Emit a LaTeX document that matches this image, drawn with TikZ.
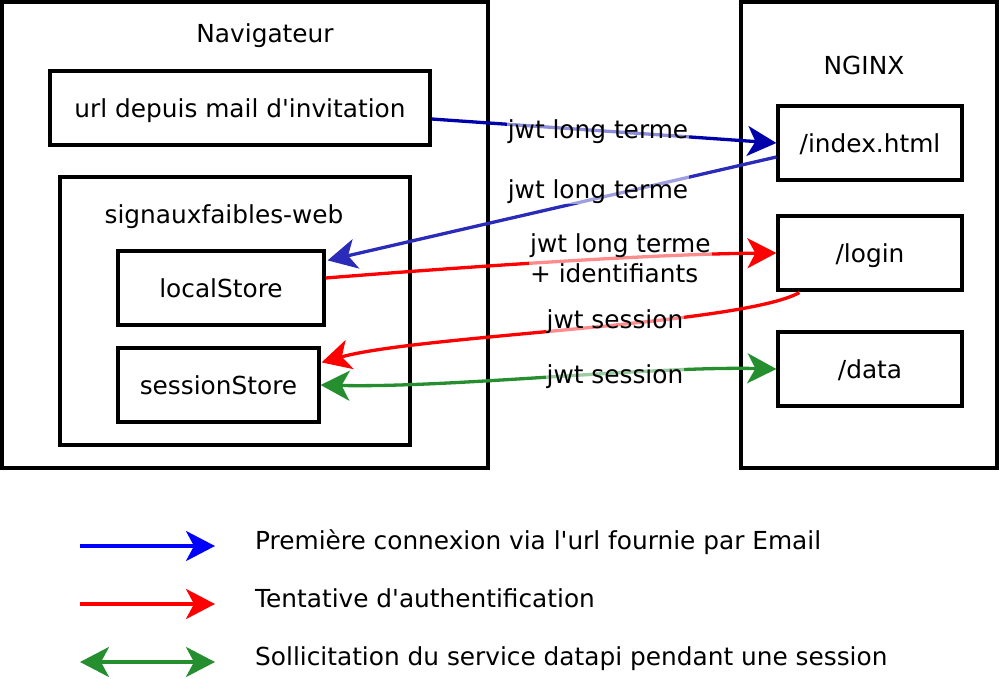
\documentclass[tikz,border=0pt]{standalone}
\usepackage{fontspec}
\setmainfont{DejaVu Sans}
\usetikzlibrary{arrows.meta,calc}
\definecolor{bluA}{HTML}{0000AA}
\definecolor{bluB}{HTML}{2B2BB9}
\definecolor{bluL}{HTML}{0000FF}
\definecolor{redA}{HTML}{FF0000}
\definecolor{grnA}{HTML}{258E2F}
\begin{document}
\begin{tikzpicture}[x=1pt,y=-1pt,
  fnt/.style={font=\fontsize{24.8}{30}\selectfont, text height=24pt, text depth=5pt},
  box/.style={draw, line width=3.2pt, inner sep=0pt, fnt},
  txt/.style={fnt, inner sep=0pt},
  lbl/.style={fnt, inner xsep=1pt, inner ysep=0pt, fill=white, fill opacity=0.55, text opacity=1},
  lblm/.style={font=\fontsize{24.8}{30}\selectfont, inner sep=1pt, fill=white, fill opacity=0.55, text opacity=1},
  arr/.style={line width=3.3pt, -{Stealth[length=29pt,width=30pt,inset=8pt]}},
  darr/.style={line width=3.3pt, {Stealth[length=29pt,width=30pt,inset=8pt]}-{Stealth[length=29pt,width=30pt,inset=8pt]}}
]
\useasboundingbox (0,0) rectangle (999,678);
% containers
\node[box, minimum width=486pt, minimum height=466pt] (nav) at (245,235) {};
\node[txt] (navt) at (265,33) {Navigateur};
\node[box, minimum width=380pt, minimum height=74pt] (url) at (240,108) {url depuis mail d\textquotesingle invitation};
\node[box, minimum width=350pt, minimum height=268pt] (sfw) at (235,311) {};
\node[txt] (sfwt) at (224,214) {signauxfaibles-web};
\node[box, minimum width=206pt, minimum height=74pt] (ls) at (221,288) {localStore};
\node[box, minimum width=201pt, minimum height=74pt] (ss) at (218.5,385) {sessionStore};
\node[box, minimum width=256pt, minimum height=466pt] (ngx) at (869,235) {};
\node[txt] (ngxt) at (864,65) {NGINX};
\node[box, minimum width=184pt, minimum height=74pt] (idx) at (870,143) {/index.html};
\node[box, minimum width=184pt, minimum height=74pt] (login) at (870,253) {/login};
\node[box, minimum width=184pt, minimum height=74pt] (data) at (870,369) {/data};
% connectors
\draw[arr, bluA] ($(url.east)+(0,11)$) -- (idx.west);
\draw[arr, bluB] ($(idx.west)+(0,14)$) -- ($(ls.north east)+(2,11)$);
\draw[arr, redA] ($(ls.east)+(0,-10)$) .. controls (450,268) and (650,254) .. (login.west);
\draw[arr, redA] ($(login.south west)+(23,1)$) .. controls (740,325) and (420,335) .. ($(ss.north east)+(1,16)$);
\draw[darr, grnA] (ss.east) .. controls (450,388) and (650,366) .. (data.west);
% labels
\node[lbl] (l1) at (598,129) {jwt long terme};
\node[lbl] (l2) at (598,189) {jwt long terme};
\node[lblm, align=left, anchor=west] (l3) at (529,258) {jwt long terme\\+ identifiants};
\node[lbl] (l4) at (615,319) {jwt session};
\node[lbl] (l5) at (615,374) {jwt session};
% legend
\coordinate (a1) at (80,546); \coordinate (b1) at (215,546);
\coordinate (a2) at (80,604); \coordinate (b2) at (215,604);
\coordinate (a3) at (80,662); \coordinate (b3) at (215,662);
\draw[arr, bluL] (a1) -- (b1);
\draw[arr, redA] (a2) -- (b2);
\draw[darr, grnA] (a3) -- (b3);
\node[txt, anchor=west] (t1) at (255,540) {Première connexion via l\textquotesingle url fournie par Email};
\node[txt, anchor=west] (t2) at (255,598) {Tentative d\textquotesingle authentification};
\node[txt, anchor=west] (t3) at (255,656) {Sollicitation du service datapi pendant une session};
\end{tikzpicture}
\end{document}
